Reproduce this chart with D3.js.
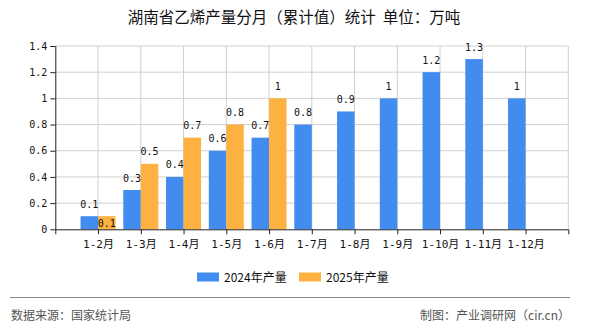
<!DOCTYPE html>
<html><head><meta charset="utf-8">
<script src="https://cdn.jsdelivr.net/npm/d3@7/dist/d3.min.js"></script>
<style>body{margin:0;background:#fff}svg{display:block}</style>
</head><body>
<svg id="c" width="590" height="330"></svg>
<script>
const categories = ["1-2月","1-3月","1-4月","1-5月","1-6月","1-7月","1-8月","1-9月","1-10月","1-11月","1-12月"];
const values2024 = [0.1,0.3,0.4,0.6,0.7,0.8,0.9,1,1.2,1.3,1];
const values2025 = [0.1,0.5,0.7,0.8,1,null,null,null,null,null,null];
const yTicks = [0,0.2,0.4,0.6,0.8,1,1.2,1.4];
const seriesNames = ["2024年产量","2025年产量"];
const colors = ["#428bef","#fcb140"];
const title = "湖南省乙烯产量分月（累计值）统计\u00a0\u00a0单位：万吨";

const svg = d3.select("#c");
const L = 55.3, R = 568.3, T = 46, B = 229.3;
const domain = ["_s", ...categories, "_e"];
const x = d3.scalePoint().domain(domain).range([L, R]);
const y = d3.scaleLinear().domain([0, 1.4]).range([B, T]);
const bw = 17.5;
const mono = "'DejaVu Sans Mono','Noto Sans CJK SC',monospace";

// title
svg.append("text").attr("x", 294).attr("y", 23).attr("text-anchor", "middle")
  .attr("font-family", "'Noto Sans CJK SC',sans-serif").attr("font-size", 15.5)
  .attr("fill", "#111").text(title);

// grid
const g = svg.append("g");
g.selectAll(".hg").data(yTicks.slice(1)).join("line")
  .attr("x1", L).attr("x2", R).attr("y1", d => y(d)).attr("y2", d => y(d))
  .attr("stroke", "#d0d0d0").attr("stroke-width", 1);
g.selectAll(".vg").data(domain.slice(1)).join("line")
  .attr("x1", d => x(d)).attr("x2", d => x(d)).attr("y1", T).attr("y2", B)
  .attr("stroke", "#d0d0d0").attr("stroke-width", 1);

// bars
const series = [values2024, values2025];
series.forEach((vals, si) => {
  svg.append("g").selectAll("rect").data(categories.map((c, i) => ({c, v: vals[i]})).filter(d => d.v != null))
    .join("rect")
    .attr("x", d => si === 0 ? x(d.c) - bw : x(d.c))
    .attr("width", bw)
    .attr("y", d => y(d.v)).attr("height", d => y(0) - y(d.v))
    .attr("fill", colors[si]);
});

// labels
series.forEach((vals, si) => {
  svg.append("g").selectAll("text").data(categories.map((c, i) => ({c, v: vals[i], o: series[1 - si][i]})).filter(d => d.v != null))
    .join("text")
    .attr("x", d => (si === 0 ? x(d.c) - bw / 2 : x(d.c) + bw / 2))
    .attr("y", d => (si === 1 && d.o === d.v) ? y(0) - 2.5 : y(d.v) - 8.5)
    .attr("text-anchor", "middle").attr("font-family", mono).attr("font-size", 10)
    .attr("fill", "#111").text(d => d.v);
});

// y axis
const ya = svg.append("g").attr("transform", `translate(${L},0)`)
  .call(d3.axisLeft(y).tickValues(yTicks).tickSize(5).tickPadding(3).tickFormat(d => d));
ya.select(".domain").attr("stroke", "#222").attr("d", `M0.5,${T}V${B}`);
ya.selectAll("line").attr("stroke", "#222");
ya.selectAll("text").attr("font-family", mono).attr("font-size", 10).attr("fill", "#111");

// x axis
const xa = svg.append("g").attr("transform", `translate(0,${B})`)
  .call(d3.axisBottom(x).tickSize(5).tickPadding(6).tickFormat(d => d.startsWith("_") ? "" : d));
xa.select(".domain").attr("stroke", "#222").attr("d", `M${L},0.5H${R}`);
xa.selectAll("line").attr("stroke", "#222");
xa.selectAll("text").attr("font-family", mono).attr("font-size", 11).attr("fill", "#111");

// legend
const lg = [{x: 197, tx: 224}, {x: 299, tx: 326}];
lg.forEach((p, i) => {
  svg.append("rect").attr("x", p.x).attr("y", 272.5).attr("width", 22).attr("height", 9).attr("fill", colors[i]);
  svg.append("text").attr("x", p.tx).attr("y", 281.5).attr("font-family", "'Noto Sans CJK SC',sans-serif")
    .attr("font-size", 12).attr("fill", "#111").text(seriesNames[i]);
});

// footer
svg.append("line").attr("x1", 10).attr("x2", 570).attr("y1", 297.5).attr("y2", 297.5).attr("stroke", "#888").attr("stroke-width", 1.2);
svg.append("text").attr("x", 11).attr("y", 320).attr("font-family", "'Noto Sans CJK SC',sans-serif")
  .attr("font-size", 12).attr("fill", "#555").text("数据来源：国家统计局");
svg.append("text").attr("x", 570).attr("y", 320).attr("text-anchor", "end").attr("font-family", "'Noto Sans CJK SC',sans-serif")
  .attr("font-size", 12).attr("fill", "#555").text("制图：产业调研网（cir.cn）");
</script>
</body></html>
